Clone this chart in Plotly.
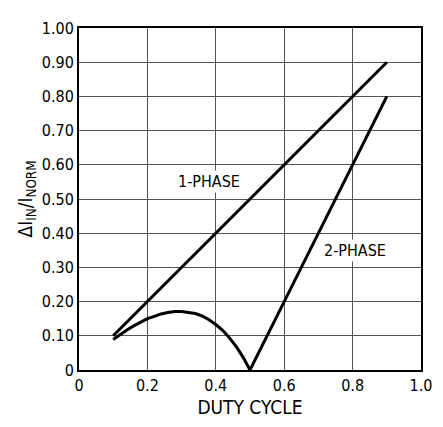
import plotly.graph_objects as go

FONT = "DejaVu Sans Condensed, Liberation Sans Narrow, sans-serif"

# duty cycle vs normalized input ripple current
duty_1ph = [0.1, 0.9]
ripple_1ph = [0.1, 0.9]

duty_2ph = [0.10, 0.12, 0.14, 0.16, 0.18, 0.20, 0.22, 0.24, 0.26, 0.28, 0.30,
            0.32, 0.34, 0.36, 0.38, 0.40, 0.42, 0.44, 0.46, 0.48, 0.50,
            0.60, 0.70, 0.80, 0.90]
ripple_2ph = [0.089, 0.104, 0.117, 0.129, 0.140, 0.150, 0.157, 0.164, 0.168,
              0.171, 0.171, 0.169, 0.165, 0.158, 0.147, 0.133, 0.116, 0.094,
              0.068, 0.037, 0.0, 0.20, 0.40, 0.60, 0.80]

x_ticks = [0, 0.2, 0.4, 0.6, 0.8, 1.0]
x_labels = ["0", "0.2", "0.4", "0.6", "0.8", "1.0"]
y_ticks = [0, 0.1, 0.2, 0.3, 0.4, 0.5, 0.6, 0.7, 0.8, 0.9, 1.0]
y_labels = ["0"] + [f"{v:.2f}" for v in y_ticks[1:]]

fig = go.Figure()
fig.add_trace(go.Scatter(x=duty_1ph, y=ripple_1ph, mode="lines",
                         line=dict(color="black", width=3)))
fig.add_trace(go.Scatter(x=duty_2ph, y=ripple_2ph, mode="lines",
                         line=dict(color="black", width=3)))

fig.add_annotation(x=0.38, y=0.55, text="1-PHASE", showarrow=False,
                   bgcolor="white", font=dict(size=16, color="black", family=FONT))
fig.add_annotation(x=0.807, y=0.348, text="2-PHASE", showarrow=False,
                   bgcolor="white", font=dict(size=16, color="black", family=FONT))

# page body adds an 8px offset, so the figure is sized to fit inside the window
fig.update_layout(
    width=435, height=419,
    plot_bgcolor="white", paper_bgcolor="white",
    showlegend=False,
    margin=dict(l=71, r=12, t=11, b=57),
    font=dict(family=FONT, size=16, color="black"),
    xaxis=dict(range=[0, 1.0], tickvals=x_ticks, ticktext=x_labels,
               showgrid=True, gridcolor="#555", gridwidth=1,
               showline=True, linecolor="black", linewidth=2, mirror=True,
               zeroline=False, ticks="",
               title=dict(text="DUTY CYCLE", standoff=6)),
    yaxis=dict(range=[0, 1.0], tickvals=y_ticks, ticktext=y_labels,
               showgrid=True, gridcolor="#555", gridwidth=1,
               showline=True, linecolor="black", linewidth=2, mirror=True,
               zeroline=False, ticks="",
               title=dict(text="ΔI<sub>IN</sub>/I<sub>NORM</sub>", standoff=4)),
)

fig.write_html("out.html")
